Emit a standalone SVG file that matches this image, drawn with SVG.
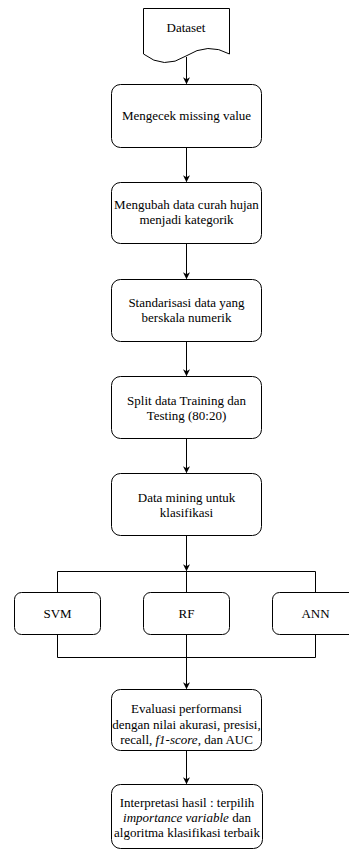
<svg xmlns="http://www.w3.org/2000/svg" width="349" height="849" viewBox="0 0 349 849">
<defs>
<marker id="a" viewBox="0 0 10 10" refX="9" refY="5" markerWidth="7" markerHeight="7" orient="auto" markerUnits="userSpaceOnUse">
<path d="M0,0 L10,5 L0,10 L3,5 Z" fill="#000"/>
</marker>
</defs>
<rect width="349" height="849" fill="#fff"/>
<g id="connectors" fill="none" stroke="#000" stroke-width="1">
<path d="M186.5,57 V83.5" marker-end="url(#a)"/>
<path d="M186.5,148 V181.5" marker-end="url(#a)"/>
<path d="M186.5,244 V278.5" marker-end="url(#a)"/>
<path d="M186.5,342 V375.5" marker-end="url(#a)"/>
<path d="M186.5,439 V472.5" marker-end="url(#a)"/>
<path d="M186.5,536 V570.5" marker-end="url(#a)"/>
<path d="M57.5,592 V571.5 H315.5 V592 M186.5,571.5 V592"/>
<path d="M57.5,635 V657.5 H315.5 V635 M186.5,635 V657.5"/>
<path d="M186.5,657.5 V688.5" marker-end="url(#a)"/>
<path d="M186.5,751 V783.5" marker-end="url(#a)"/>
</g>
<g id="dataset">
<path fill="#fff" stroke="#000" d="M143.5,8.5 H229.5 V54 Q208,42 186,56 T143.5,54 Z"/>
<text x="186" y="32" font-family="Liberation Serif" font-size="13" text-anchor="middle" fill="#000">Dataset</text>
</g>
<g id="missing">
<rect fill="#fff" stroke="#000" x="111.5" y="84.5" width="150" height="63" rx="9"/>
<text x="186.5" y="120" font-family="Liberation Serif" font-size="13" text-anchor="middle" fill="#000">Mengecek missing value</text>
</g>
<g id="kategorik">
<rect fill="#fff" stroke="#000" x="111.5" y="182.5" width="150" height="61" rx="9"/>
<text x="186.5" y="209" font-family="Liberation Serif" font-size="13" text-anchor="middle" fill="#000">Mengubah data curah hujan</text>
<text x="186.5" y="224" font-family="Liberation Serif" font-size="13" text-anchor="middle" fill="#000">menjadi kategorik</text>
</g>
<g id="standarisasi">
<rect fill="#fff" stroke="#000" x="111.5" y="279.5" width="150" height="62" rx="9"/>
<text x="186.5" y="307" font-family="Liberation Serif" font-size="13" text-anchor="middle" fill="#000">Standarisasi data yang</text>
<text x="186.5" y="322" font-family="Liberation Serif" font-size="13" text-anchor="middle" fill="#000">berskala numerik</text>
</g>
<g id="split">
<rect fill="#fff" stroke="#000" x="111.5" y="376.5" width="150" height="62" rx="9"/>
<text x="186.5" y="405" font-family="Liberation Serif" font-size="13" text-anchor="middle" fill="#000">Split data Training dan</text>
<text x="186.5" y="420" font-family="Liberation Serif" font-size="13" text-anchor="middle" fill="#000">Testing (80:20)</text>
</g>
<g id="mining">
<rect fill="#fff" stroke="#000" x="111.5" y="473.5" width="150" height="62" rx="9"/>
<text x="186.5" y="502" font-family="Liberation Serif" font-size="13" text-anchor="middle" fill="#000">Data mining untuk</text>
<text x="186.5" y="517" font-family="Liberation Serif" font-size="13" text-anchor="middle" fill="#000">klasifikasi</text>
</g>
<g id="svm">
<rect fill="#fff" stroke="#000" x="14.5" y="592.5" width="86" height="42" rx="7"/>
<text x="57.5" y="618" font-family="Liberation Serif" font-size="13" text-anchor="middle" fill="#000">SVM</text>
</g>
<g id="rf">
<rect fill="#fff" stroke="#000" x="143.5" y="592.5" width="86" height="42" rx="7"/>
<text x="186.5" y="618" font-family="Liberation Serif" font-size="13" text-anchor="middle" fill="#000">RF</text>
</g>
<g id="ann">
<rect fill="#fff" stroke="#000" x="272.5" y="592.5" width="86" height="42" rx="7"/>
<text x="315.5" y="618" font-family="Liberation Serif" font-size="13" text-anchor="middle" fill="#000">ANN</text>
</g>
<g id="evaluasi">
<rect fill="#fff" stroke="#000" x="111.5" y="689.5" width="150" height="61" rx="9"/>
<text x="186.5" y="713" font-family="Liberation Serif" font-size="13" text-anchor="middle" fill="#000">Evaluasi performansi</text>
<text x="186.5" y="729" font-family="Liberation Serif" font-size="13" text-anchor="middle" fill="#000">dengan nilai akurasi, presisi,</text>
<text x="186.5" y="744" font-family="Liberation Serif" font-size="13" text-anchor="middle" fill="#000">recall, <tspan font-style="italic">f1-score</tspan>, dan AUC</text>
</g>
<g id="interpretasi">
<rect fill="#fff" stroke="#000" x="111.5" y="784.5" width="151" height="64" rx="9"/>
<text x="187" y="807" font-family="Liberation Serif" font-size="13" text-anchor="middle" fill="#000">Interpretasi hasil : terpilih</text>
<text x="187" y="822" font-family="Liberation Serif" font-size="13" text-anchor="middle" fill="#000"><tspan font-style="italic">importance variable</tspan> dan</text>
<text x="187" y="837" font-family="Liberation Serif" font-size="13" text-anchor="middle" fill="#000">algoritma klasifikasi terbaik</text>
</g>
</svg>
